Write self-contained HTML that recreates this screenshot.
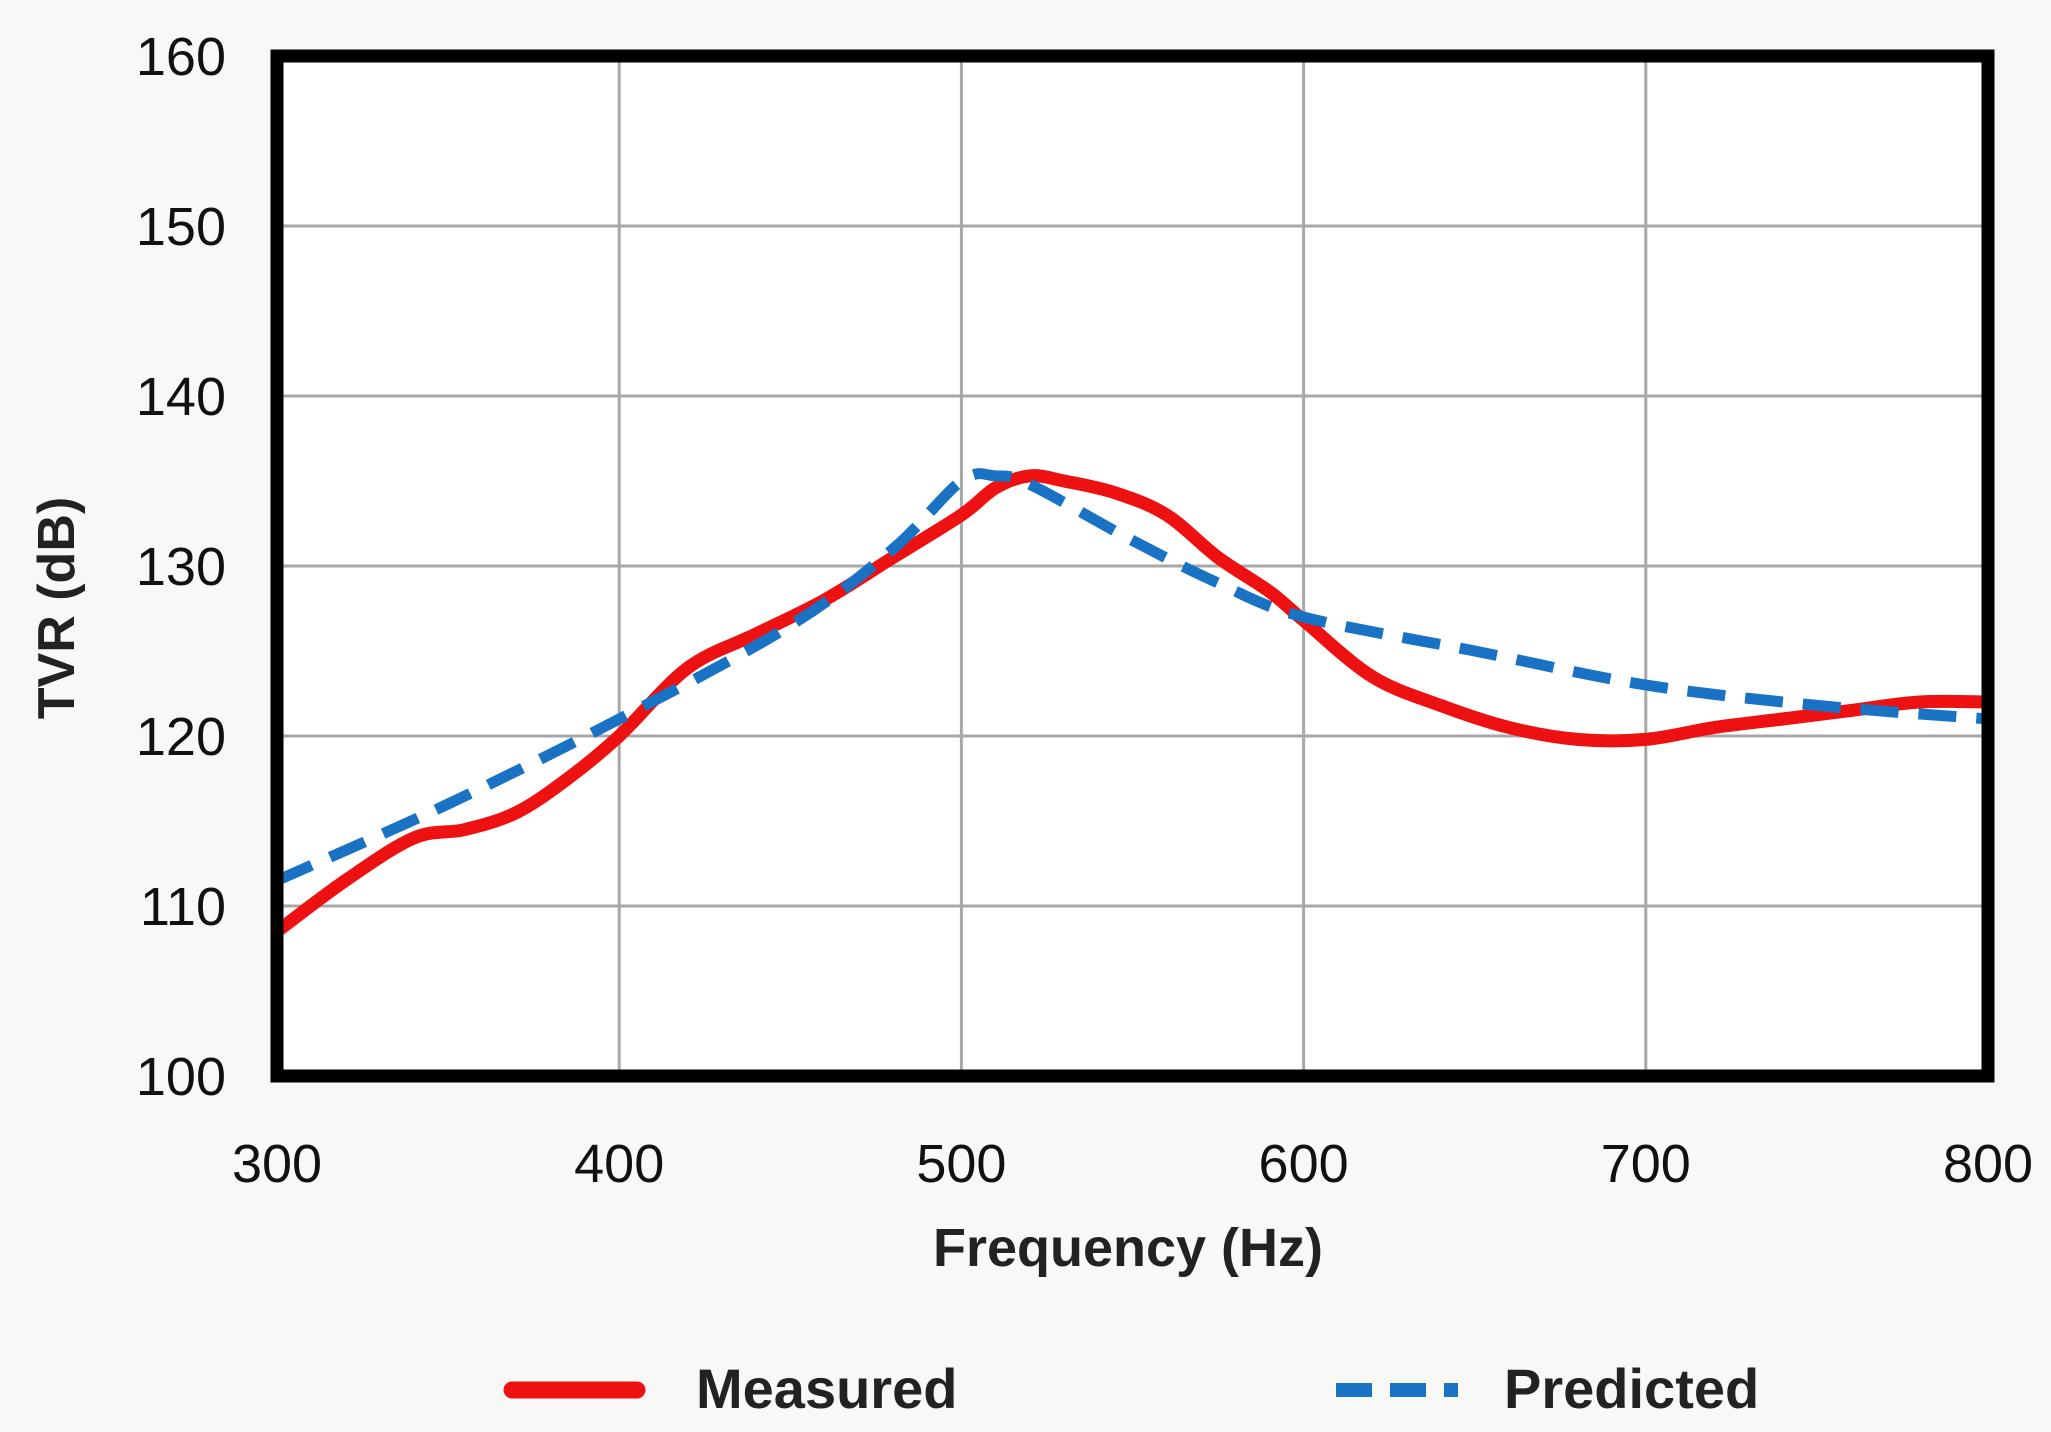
<!DOCTYPE html>
<html><head><meta charset="utf-8"><style>
html,body{margin:0;padding:0;background:#f8f8f6;}
svg{display:block;font-family:"Liberation Sans",sans-serif;}
</style></head><body>
<svg id="chart" width="2051" height="1432" viewBox="0 0 2051 1432">
<rect x="0" y="0" width="2051" height="1432" fill="#f8f8f6"/>
<rect x="277" y="56" width="1711" height="1020" fill="#ffffff"/>
<defs><clipPath id="clip"><rect x="283" y="62" width="1699" height="1008"/></clipPath></defs>
<g id="grid"></g>
<g id="series" clip-path="url(#clip)"></g>
<rect x="277" y="56" width="1711" height="1020" fill="none" stroke="#000" stroke-width="13"/>
<g id="ticks"></g>
<text x="1128" y="1266" text-anchor="middle" font-size="54" font-weight="bold" fill="#222">Frequency (Hz)</text>
<text x="0" y="0" text-anchor="middle" font-size="52" font-weight="bold" fill="#222" transform="translate(74 608) rotate(-90)">TVR (dB)</text>
<g>
<line x1="512" y1="1390" x2="637" y2="1390" stroke="#ee1111" stroke-width="17" stroke-linecap="round"/>
<text x="696" y="1408" font-size="56" font-weight="bold" fill="#222">Measured</text>
<line x1="1336" y1="1390" x2="1458" y2="1390" stroke="#1a72c4" stroke-width="14" stroke-dasharray="36 18"/>
<text x="1504" y="1408" font-size="56" font-weight="bold" fill="#222">Predicted</text>
</g>
</svg>
<script>
const xTicks = [300, 400, 500, 600, 700, 800];
const yTicks = [100, 110, 120, 130, 140, 150, 160];
const measuredX = [300,320,340,355,370,385,400,420,440,460,480,500,510,520,530,545,560,575,590,600,620,640,660,680,700,720,740,760,780,800];
const measuredY = [108.5,111.5,114,114.5,115.5,117.5,120,124,126,128,130.5,133,134.6,135.3,135,134.3,133,130.5,128.5,126.8,123.5,121.8,120.5,119.8,119.8,120.5,121,121.5,122,122];
const predictedX = [300,350,400,450,480,500,510,520,550,575,600,650,700,750,800];
const predictedY = [111.5,116,121,126.5,131,135,135.3,134.8,131.5,129,127,125,123,121.8,121];

const NS = "http://www.w3.org/2000/svg";
const X0 = 277, X1 = 1988, Y0 = 1076, Y1 = 56;
function sx(v){ return X0 + (v - 300) / 500 * (X1 - X0); }
function sy(v){ return Y0 - (v - 100) / 60 * (Y0 - Y1); }
function mk(tag, attrs){ const e = document.createElementNS(NS, tag); for (const k in attrs) e.setAttribute(k, attrs[k]); return e; }

const grid = document.getElementById('grid');
const ticks = document.getElementById('ticks');
xTicks.forEach(t => {
  const l = mk('line', {x1: sx(t), x2: sx(t), y1: Y1, y2: Y0, stroke: '#a8a8a8', 'stroke-width': 3});
  
  
  grid.appendChild(l);
  const tx = mk('text', {x: sx(t), y: 1182, 'text-anchor': 'middle', 'font-size': 54, fill: '#111'});
  tx.textContent = t;
  
  
  ticks.appendChild(tx);
});
yTicks.forEach(t => {
  const l = mk('line', {x1: X0, x2: X1, y1: sy(t), y2: sy(t), stroke: '#a8a8a8', 'stroke-width': 3});
  
  
  grid.appendChild(l);
  const tx = mk('text', {x: 226, y: sy(t) + 19, 'text-anchor': 'end', 'font-size': 54, fill: '#111'});
  tx.textContent = t;
  
  
  ticks.appendChild(tx);
});

function smoothPath(xs, ys){
  const p = xs.map((x, i) => [sx(x), sy(ys[i])]);
  let d = `M${p[0][0]},${p[0][1]}`;
  for (let i = 0; i < p.length - 1; i++) {
    const a = p[Math.max(0, i - 1)], b = p[i], c = p[i + 1], e = p[Math.min(p.length - 1, i + 2)];
    const c1 = [b[0] + (c[0] - a[0]) / 6, b[1] + (c[1] - a[1]) / 6];
    const c2 = [c[0] - (e[0] - b[0]) / 6, c[1] - (e[1] - b[1]) / 6];
    d += ` C${c1[0]},${c1[1]} ${c2[0]},${c2[1]} ${c[0]},${c[1]}`;
  }
  return d;
}
const series = document.getElementById('series');
const pm = mk('path', {d: smoothPath(measuredX, measuredY), fill: 'none', stroke: '#ee1111', 'stroke-width': 13, 'stroke-linejoin': 'round'});


series.appendChild(pm);
const pp = mk('path', {d: smoothPath(predictedX, predictedY), fill: 'none', stroke: '#1a72c4', 'stroke-width': 11, 'stroke-dasharray': '38 20'});


series.appendChild(pp);
</script>
</body></html>
